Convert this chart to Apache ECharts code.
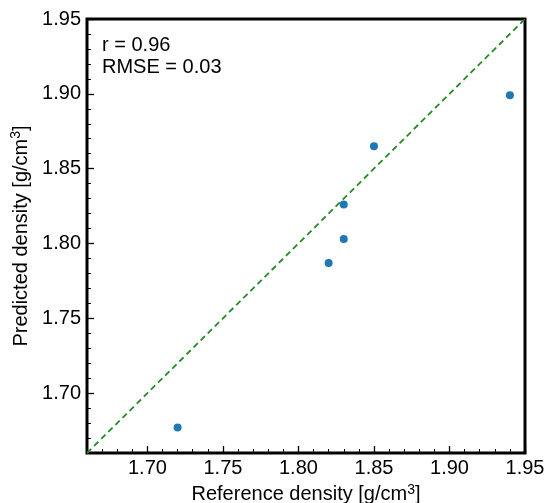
<!DOCTYPE html>
<html>
<head>
<meta charset="utf-8">
<script src="https://cdn.jsdelivr.net/npm/echarts@6/dist/echarts.min.js"></script>
<style>html,body{margin:0;padding:0;background:#fff}#c{width:546px;height:503px}</style>
</head>
<body>
<div id="c"></div>
<script>
// Data
const referenceDensity = [1.72, 1.82, 1.83, 1.83, 1.85, 1.94];
const predictedDensity = [1.677, 1.787, 1.803, 1.826, 1.865, 1.899];
const axisMin = 1.66, axisMax = 1.95;
const majorTicks = [1.70, 1.75, 1.80, 1.85, 1.90, 1.95];
const minorTicks = [1.67, 1.68, 1.69, 1.71, 1.72, 1.73, 1.74, 1.76, 1.77, 1.78, 1.79,
  1.81, 1.82, 1.83, 1.84, 1.86, 1.87, 1.88, 1.89, 1.91, 1.92, 1.93, 1.94];
const statsText = ['r = 0.96', 'RMSE = 0.03'];

const FONT = '"Liberation Sans", Arial, sans-serif';
const pts = referenceDensity.map((x, i) => [x, predictedDensity[i]]);

function mkAxis(opts) {
  return Object.assign({
    type: 'value', min: axisMin, max: axisMax, gridIndex: 0,
    splitLine: { show: false },
    axisLine: { show: false },
    axisLabel: { show: false },
    axisTick: { show: false }
  }, opts);
}
const titleRich = {
  a: { fontFamily: FONT, fontSize: 20, color: '#000' },
  s: { fontFamily: FONT, fontSize: 14, color: '#000', verticalAlign: 'bottom', padding: [0, 0, 10, 0] }
};

const xAxes = [
  mkAxis({
    position: 'bottom',
    name: '{a|Reference density [g/cm}{s|3}{a|]}',
    nameLocation: 'middle', nameGap: 28,
    nameTextStyle: { rich: titleRich },
    axisLabel: { show: true, customValues: majorTicks, fontFamily: FONT, fontSize: 20, color: '#000', margin: 5,
      formatter: v => v.toFixed(2) },
    axisTick: { show: true, customValues: majorTicks, inside: true, length: 7, lineStyle: { color: '#000', width: 1.3 } }
  }),
  mkAxis({
    position: 'bottom',
    axisTick: { show: true, customValues: minorTicks, inside: true, length: 4, lineStyle: { color: '#000', width: 1 } }
  })
];
const yAxes = [
  mkAxis({
    position: 'left',
    name: '{a|Predicted density [g/cm}{s|3}{a|]}',
    nameLocation: 'middle', nameGap: 53, nameRotate: 90,
    nameTextStyle: { rich: titleRich },
    axisLabel: { show: true, customValues: majorTicks, fontFamily: FONT, fontSize: 20, color: '#000', margin: 6,
      formatter: v => v.toFixed(2) },
    axisTick: { show: true, customValues: majorTicks, inside: true, length: 7, lineStyle: { color: '#000', width: 1.3 } }
  }),
  mkAxis({
    position: 'left',
    axisTick: { show: true, customValues: minorTicks, inside: true, length: 4, lineStyle: { color: '#000', width: 1 } }
  })
];

const chart = echarts.init(document.getElementById('c'), null, { renderer: 'canvas' });
chart.setOption({
  animation: false,
  backgroundColor: '#fff',
  grid: { left: 87, right: 21, top: 19, bottom: 50, show: true, borderColor: '#000', borderWidth: 3,
    backgroundColor: 'transparent', containLabel: false, outerBoundsMode: 'none' },
  xAxis: xAxes,
  yAxis: yAxes,
  graphic: [
    { type: 'text', left: 102, top: 35, style: { text: statsText[0], font: '20px ' + FONT, fill: '#000' } },
    { type: 'text', left: 102, top: 57, style: { text: statsText[1], font: '20px ' + FONT, fill: '#000' } }
  ],
  series: [
    {
      type: 'line', xAxisIndex: 0, yAxisIndex: 0,
      data: [[axisMin, axisMin], [axisMax, axisMax]],
      symbol: 'none', silent: true, z: 2,
      lineStyle: { color: '#228B22', width: 1.8, type: [6, 4] }
    },
    {
      type: 'scatter', xAxisIndex: 0, yAxisIndex: 0,
      data: pts, symbol: 'circle', symbolSize: 8, z: 3,
      itemStyle: { color: '#1f77b4', opacity: 1 }
    }
  ]
});
</script>
</body>
</html>
